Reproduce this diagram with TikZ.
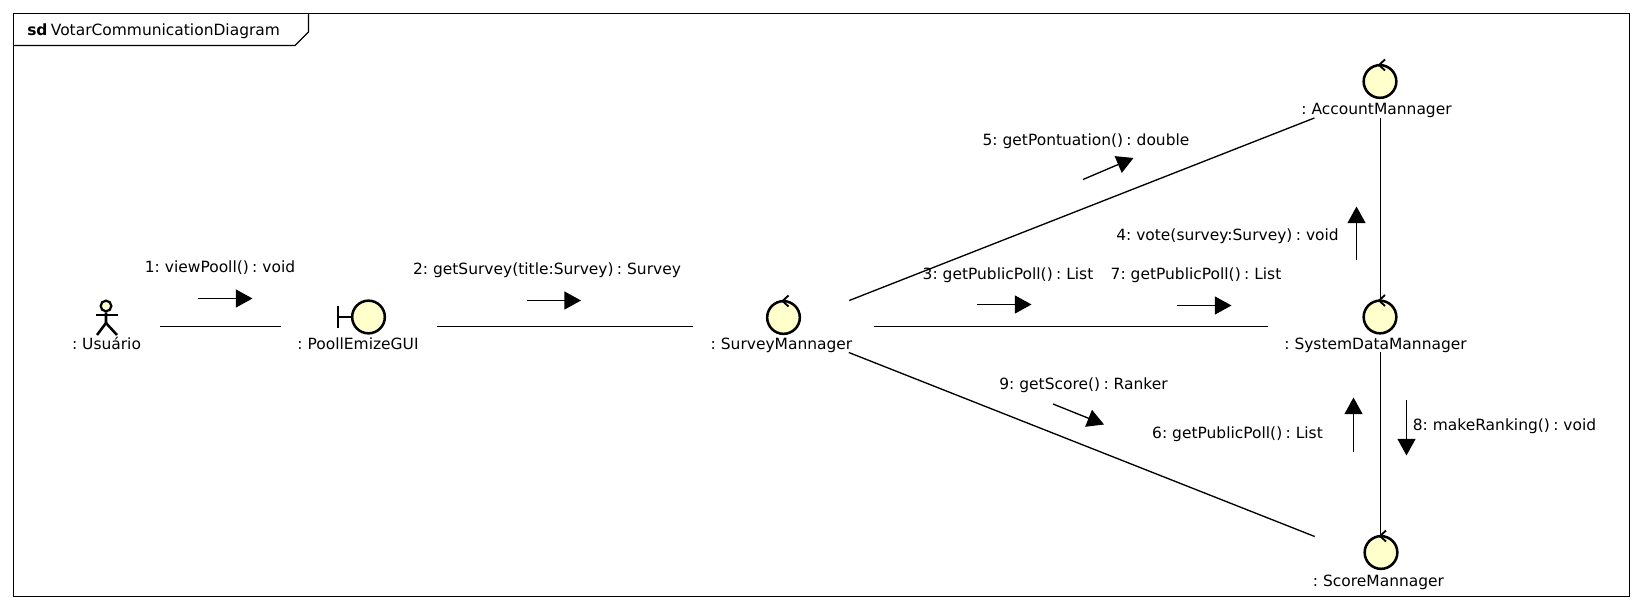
\documentclass[tikz,border=0pt]{standalone}
\usepackage{fontspec}
\setmainfont{DejaVu Sans}[WordSpace=0.68]
\usetikzlibrary{arrows.meta,positioning}
\definecolor{iconfill}{HTML}{FFFFCC}

\begin{document}
\begin{tikzpicture}[x=0.75pt,y=-0.75pt,font=\fontsize{11.6pt}{14pt}\selectfont]
            \tikzstyle{objbox}=[inner sep=0pt,outer sep=0pt,minimum width=#1,minimum height=39pt];
            \tikzstyle{objname}=[inner sep=0pt,anchor=base];
            \tikzstyle{msgname}=[inner sep=0pt,anchor=base];
            \tikzstyle{icon}=[circle,draw,line width=1.9pt,fill=iconfill,inner sep=0pt,minimum size=24.5pt];
            \tikzstyle{link}=[line width=1pt];
            \tikzstyle{msg}=[line width=1pt,-{Triangle[length=12.5pt,width=13.5pt]}];
            \tikzstyle{tick}=[line width=1.4pt];
            \tikzstyle{figure}=[line width=1.9pt];
            \useasboundingbox (0,0) rectangle (1642,609);
            % frame
            \draw[line width=1pt] (13.5,13.5) rectangle (1629.5,596.5);
            \draw[line width=1pt] (13.5,45.5) -- (295,45.5) -- (308.5,32) -- (308.5,13.5);
            \node[msgname,anchor=base west] (title) at (27,36) {\textbf{sd} VotarCommunicationDiagram};
            % objects
            \node[objbox=81pt] (usuario) at (106,326.5) {};
            \node[objbox=117pt] (poollemize) at (359,326.5) {};
            \node[objbox=135.75pt] (survey) at (783,326.5) {};
            \node[objbox=112.5pt] (account) at (1380.5,92) {};
            \node[objbox=169.5pt] (sysdata) at (1380.5,326.5) {};
            \node[objbox=112.5pt] (score) at (1380.5,562.5) {};
            % actor
            \node[circle,draw,line width=1.7pt,fill=iconfill,inner sep=0pt,minimum size=8pt] (usuariohead) at (106,306) {};
            \draw[figure] (usuariohead.south) -- (106,323) -- (97,335);
            \draw[figure] (106,323) -- (117,335);
            \draw[figure] (96,315) -- (118,315);
            % boundary
            \node[icon] (poollemizeicon) at (368.5,317) {};
            \draw[figure] (338,306) -- (338,328);
            \draw[figure] (338,317) -- (poollemizeicon.west);
            % controls
            \node[icon] (surveyicon) at (783.5,317.5) {};
            \node[icon] (accounticon) at (1380,81.5) {};
            \node[icon] (sysdataicon) at (1380,317) {};
            \node[icon] (scoreicon) at (1381,552.5) {};
            \foreach \c in {surveyicon,accounticon,sysdataicon,scoreicon}
                \draw[tick] ([shift={(5,-22)}]\c.center) -- ([shift={(-1,-16.5)}]\c.center) -- ([shift={(5,-11)}]\c.center);
            % object names
            \node[objname] (usuarioname) at (106.5,350) {: Usuário};
            \node[objname] (poollemizename) at (358,350) {: PoollEmizeGUI};
            \node[objname] (surveyname) at (781.5,350) {: SurveyMannager};
            \node[objname] (accountname) at (1376.5,115) {: AccountMannager};
            \node[objname] (sysdataname) at (1375.5,350) {: SystemDataMannager};
            \node[objname] (scorename) at (1378.5,586) {: ScoreMannager};
            % links
            \path[draw,link] (usuario) -- (poollemize);
            \path[draw,link] (poollemize) -- (survey);
            \path[draw,link] (survey) -- (account);
            \path[draw,link] (survey) -- (sysdata);
            \path[draw,link] (survey) -- (score);
            \path[draw,link] (account) -- (sysdata);
            \path[draw,link] (sysdata) -- (score);
            % messages
            \coordinate (m1a) at (198,298.5);
            \coordinate (m1b) at (252.5,298.5);
            \coordinate (m2a) at (527,300.5);
            \coordinate (m2b) at (581,300.5);
            \coordinate (m3a) at (977,304.5);
            \coordinate (m3b) at (1031.5,304.5);
            \coordinate (m4a) at (1356.5,260.5);
            \coordinate (m4b) at (1356.5,206.5);
            \coordinate (m5a) at (1083,179.5);
            \coordinate (m5b) at (1133.5,158);
            \coordinate (m6a) at (1353.5,451.5);
            \coordinate (m6b) at (1353.5,397.5);
            \coordinate (m7a) at (1177,305.5);
            \coordinate (m7b) at (1231.5,305.5);
            \coordinate (m8a) at (1406.5,400.5);
            \coordinate (m8b) at (1406.5,455.5);
            \coordinate (m9a) at (1053,404);
            \coordinate (m9b) at (1104,424.5);
            \foreach \m in {1,...,9}
                \path[draw,msg] (m\m a) -- (m\m b);
            \node[msgname] (m1) at (220,272.5) {1: viewPooll() : void};
            \node[msgname] (m2) at (547,274.5) {2: getSurvey(title:Survey) : Survey};
            \node[msgname] (m3) at (1008,280) {3: getPublicPoll() : List};
            \node[msgname] (m4) at (1227.5,240.5) {4: vote(survey:Survey) : void};
            \node[msgname] (m5) at (1086,146) {5: getPontuation() : double};
            \node[msgname] (m6) at (1237.5,438.5) {6: getPublicPoll() : List};
            \node[msgname] (m7) at (1196,279.5) {7: getPublicPoll() : List};
            \node[msgname] (m8) at (1504.5,431) {8: makeRanking() : void};
            \node[msgname] (m9) at (1083.5,390) {9: getScore() : Ranker};
        \end{tikzpicture}
\end{document}
